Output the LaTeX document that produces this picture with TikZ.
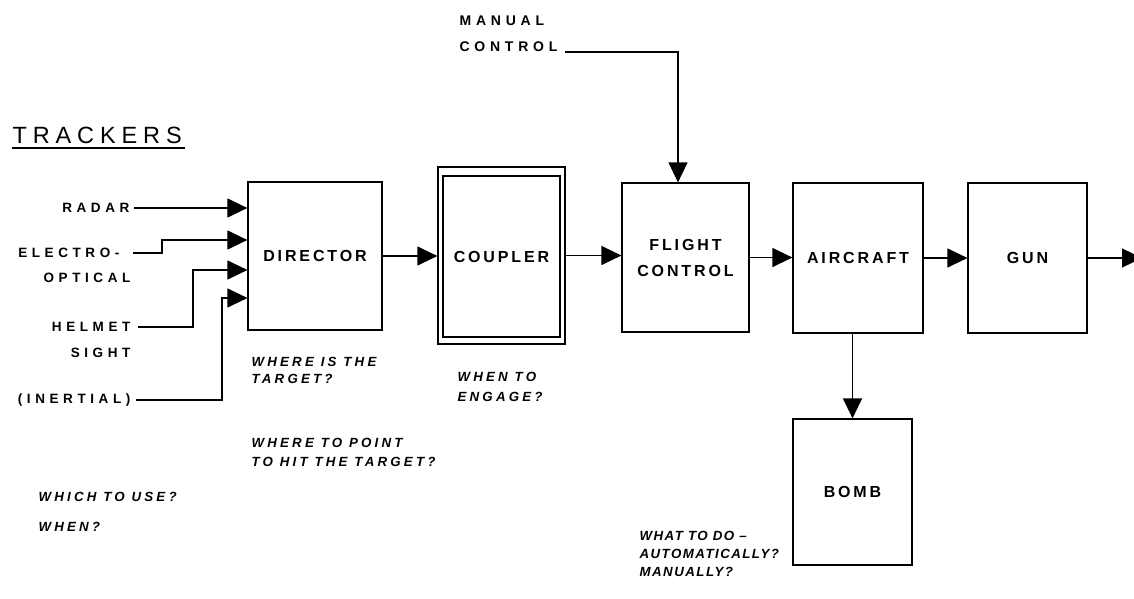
\documentclass[tikz,border=0pt]{standalone}
\usepackage{fontspec}
\setmainfont{Liberation Sans}
\newfontfamily\boxf[LetterSpace=18]{Liberation Sans}
\newfontfamily\lblf[LetterSpace=34]{Liberation Sans}
\newfontfamily\trkf[LetterSpace=25]{Liberation Sans}
\newfontfamily\qf[LetterSpace=24]{Liberation Sans}
\newfontfamily\qtight[LetterSpace=11]{Liberation Sans}
\usetikzlibrary{arrows.meta}
\begin{document}
\begin{tikzpicture}[x=1pt,y=-1pt,line width=1.2pt,
  blk/.style={draw,rectangle,inner sep=0pt,align=center,font=\boxf\fontsize{16}{26}\selectfont\bfseries},
  src/.style={font=\lblf\fontsize{13.5}{15}\selectfont\bfseries,inner sep=0pt,anchor=east},
  ques/.style={font=\qf\fontsize{13.3}{#1}\selectfont\bfseries\itshape,align=left,anchor=west,inner sep=0pt},
  arr/.style={-{Triangle[length=20pt,width=19pt]}}]
\useasboundingbox (0,0) rectangle (1134,599);
% blocks
\node[blk,minimum width=134pt,minimum height=148pt] (dir) at (315,256) {DIRECTOR};
\node[blk,minimum width=127pt,minimum height=177pt] (cpo) at (501.5,255.5) {};
\node[blk,minimum width=117pt,minimum height=161pt] (cp) at (501.5,256.5) {COUPLER};
\node[blk,minimum width=127pt,minimum height=149pt] (fc) at (685.5,257.5) {FLIGHT\\CONTROL};
\node[blk,minimum width=130pt,minimum height=150pt] (ac) at (858,258) {AIRCRAFT};
\node[blk,minimum width=119pt,minimum height=150pt] (gun) at (1027.5,258) {GUN};
\node[blk,minimum width=119pt,minimum height=146pt] (bomb) at (852.5,492) {BOMB};
% main chain
\draw[arr] (dir.east) -- (dir.east -| cpo.west);
\draw[arr] (cpo.east) -- (cpo.east -| fc.west);
\draw[arr] (fc.east) -- (fc.east -| ac.west);
\draw[arr] (ac.east) -- (ac.east -| gun.west);
\coordinate (out) at (1142,258);
\draw[arr] (gun.east) -- (out);
\draw[arr] (ac.south -| bomb.north) -- (bomb.north);
% manual control
\node[font=\lblf\fontsize{14}{26}\selectfont\bfseries,align=left,anchor=west,inner sep=0pt] (man) at (459,34) {MANUAL\\CONTROL};
\coordinate (mc) at (565,52);
\coordinate (mct) at (678,52);
\draw[arr] (mc) -- (mct) -- (mct |- fc.north);
% trackers
\node[font=\trkf\fontsize{23.5}{26}\selectfont,anchor=west,inner sep=0pt] (trk) at (12,135) {TRACKERS};
\draw (12,148) -- (185,148);
\node[src] (radar) at (130,208) {RADAR};
\node[src] (eo1) at (120,253) {ELECTRO-};
\node[src] (eo2) at (131,278) {OPTICAL};
\node[src] (hm1) at (131,327) {HELMET};
\node[src] (hm2) at (131,353) {SIGHT};
\node[src] (ine) at (131,400) {(INERTIAL)};
\coordinate (r0) at (134,208);
\coordinate (e0) at (133,253);
\coordinate (h0) at (138,327);
\coordinate (i0) at (136,400);
\draw[arr] (r0) -- (r0 -| dir.west);
\draw[arr] (e0) -- (162,253) -- (162,240) -- (dir.west |- 0,240);
\draw[arr] (h0) -- (193,327) -- (193,270) -- (dir.west |- 0,270);
\draw[arr] (i0) -- (222,400) -- (222,298) -- (dir.west |- 0,298);
% questions
\node[ques=17] (q1) at (251,370.5) {WHERE IS THE\\TARGET?};
\node[ques=20] (q2) at (457,387) {WHEN TO\\ENGAGE?};
\node[ques=19] (q3) at (251,452.5) {WHERE TO POINT\\TO HIT THE TARGET?};
\node[ques=19] (q4) at (38,497) {WHICH TO USE?};
\node[ques=19] (q5) at (38,527) {WHEN?};
\node[ques=18,font=\qtight\fontsize{13.3}{18}\selectfont\bfseries\itshape] (q6) at (639,554) {WHAT TO DO –\\AUTOMATICALLY?\\MANUALLY?};
\end{tikzpicture}
\end{document}
